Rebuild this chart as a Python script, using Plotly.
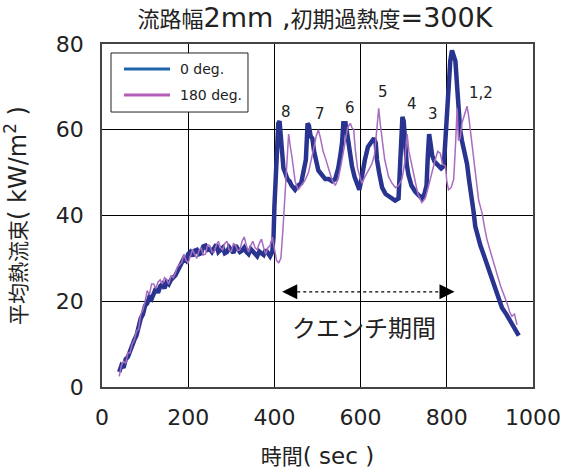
import plotly.graph_objects as go

# ---------------- data ----------------
t_0deg = [40, 45, 50, 55, 60, 65, 70, 75, 80, 85, 90, 95, 100, 105, 110, 115, 120, 125, 130, 135,
          140, 145, 150, 155, 160, 165, 170, 175, 180, 185, 190, 195,
          200, 205, 210, 215, 220, 225, 230, 235, 240, 245, 250, 255, 260, 265, 270, 275, 280, 285,
          290, 295, 300, 305, 310, 315, 320, 325, 330, 335, 340, 345, 350, 355, 360, 365, 370, 375,
          380, 385, 390, 395, 398, 400,
          403, 406, 409, 412, 415, 418, 421, 425, 430, 435, 440, 448, 455, 462, 468, 473, 477, 480,
          484, 488, 492, 497, 502, 510, 518, 526, 534, 541, 548, 553, 557, 560, 565, 569, 574, 580,
          586, 592, 597, 601, 605, 610, 617, 624, 631, 635, 638, 643, 650, 658, 666, 673, 680, 688,
          692, 695, 697, 700, 703, 707, 711, 718, 727, 735, 742, 748, 753, 756, 759, 762, 766, 772,
          780, 787, 793, 797, 800, 804, 808, 812, 816, 820, 824, 827, 831, 835, 841, 847, 852, 858,
          862, 866, 872, 878, 885, 892, 900, 909, 918, 928, 938, 947, 955, 962, 967]
q_0deg = [3.5, 5, 4.5, 6.5, 7, 8.5, 9.5, 11, 12, 14.5, 16, 17, 19, 19.5, 21, 20.5, 22, 23, 22, 23.5,
          24, 23, 24.5, 24, 25, 25.5, 26, 27, 28, 29, 30, 29.5,
          31, 31.5, 30.5, 31.8, 32, 31, 31.2, 32.8, 33, 32, 32.2, 31.5, 32.5, 33.2, 31.5, 32, 32.5, 31.2,
          31.5, 32.6, 32, 31.3, 33, 32.2, 31.5, 31.8, 32.5, 31.5, 31, 32.2, 31.5, 30.8, 30.5, 31.6, 31, 30.8,
          32, 31.2, 30.5, 31.5, 35, 42,
          50, 57, 61.5, 62, 59, 54, 51, 50, 48.5, 48, 47, 46, 47, 47.5, 50, 53, 61.5, 61,
          58.5, 58, 55, 53, 50.5, 49.5, 48.5, 48.5, 48, 48.5, 51, 54, 57, 61.5, 61.5, 59, 55, 51.5,
          49, 47, 46, 48, 51, 53, 56, 57, 58, 57, 53, 50, 46.5, 45, 44.5, 44, 43.5, 44,
          52, 60, 63, 62, 57, 52, 49.5, 47, 45.5, 44.5, 44, 45, 47, 54, 59, 57, 54, 52.5,
          51.5, 51, 51.5, 58, 65, 70, 76, 78.5, 77.5, 76, 70, 64, 60, 57.5, 55, 52, 48, 44.5,
          41, 37.5, 35, 33, 31, 29, 26.5, 24, 21, 18.5, 17, 15.5, 14, 13, 12]

t_180deg = [40, 45, 50, 55, 60, 65, 70, 75, 80, 85, 90, 95, 100, 105, 110, 115, 120, 125, 130, 135,
            140, 145, 150, 155, 160, 165, 170, 175, 180, 185, 190, 195,
            200, 205, 210, 215, 220, 225, 230, 235, 240, 245, 250, 255, 260, 265, 270, 275, 280, 285,
            290, 295, 300, 305, 310, 315, 320, 325, 330, 335, 340, 345, 350, 355, 360, 365, 370, 375,
            380, 385, 390, 395, 400, 405,
            410, 415, 420, 425, 429, 433, 437, 441, 448, 455, 462, 470, 479, 486, 492, 497, 502, 507,
            513, 518, 525, 533, 541, 548, 555, 560, 565, 570, 576, 580, 584, 588, 593, 598, 603, 610,
            618, 626, 632, 637, 642, 646, 650, 656, 665, 673, 681, 688, 696, 702, 706, 708, 712, 719,
            726, 733, 742, 750, 758, 766, 773, 779, 785, 790, 797, 800, 804, 810, 816, 820, 824, 827,
            831, 835, 840, 844, 847, 851, 854, 860, 866, 870, 874, 878, 882, 888, 893, 900, 908, 916,
            925, 933, 940, 946, 951, 957, 961, 963]
q_180deg = [2.5, 5, 6, 5.5, 8, 8, 10, 11, 13, 13.5, 17, 18, 20, 22.5, 21.5, 24, 24, 23, 24.5, 25,
            24, 25.5, 25, 24, 26, 25.5, 26.5, 28, 28.5, 29, 31, 29.5,
            29, 30.5, 32, 31, 30, 31.8, 32.5, 30.8, 31, 33.2, 33, 31.5, 31.5, 33, 34, 32.5, 32, 33.5,
            34, 32, 31.5, 33.5, 33, 31.8, 32, 34, 35, 33, 31.5, 33, 34, 32.5, 32, 33.5, 34.5, 32.5,
            31, 32.5, 33, 35, 32, 29.5,
            29, 30, 37, 45, 52, 59, 56, 53.5, 48, 46, 47, 48, 50, 53, 56, 58.5, 60, 58,
            55, 53.5, 51, 48.5, 47, 48.5, 52, 55, 58, 60.5, 61.5, 60.5, 60, 55, 51, 49, 47.5, 49,
            50.5, 52, 54, 60, 65, 61, 57.5, 53, 49, 47.5, 46.5, 47, 48.5, 52, 57, 59, 55, 51.5,
            48.5, 45, 43, 44, 47, 50.5, 53, 55, 54.5, 52, 51.5, 48, 46, 46.5, 48.5, 56, 65, 57.5,
            58, 61.5, 63, 64.5, 65.5, 63, 60.5, 56, 51.5, 47, 43.5, 42, 40.5, 37, 34.5, 32, 29.5, 26.5,
            23.5, 21.5, 19.5, 17.5, 16.5, 17, 15, 14.5]

series_names = ["0 deg.", "180 deg."]
peak_labels = ["8", "7", "6", "5", "4", "3", "1,2"]
peak_label_x = [427, 506, 576, 651, 719, 768, 879]
peak_label_y = [64.2, 63.6, 65.0, 68.9, 66.0, 63.6, 68.5]
quench_start, quench_end, quench_level = 418, 818, 22.2
quench_text = "クエンチ期間"

# ---------------- style ----------------
NAVY = "#28348f"
PURPLE = "#a86cc1"
LEG_BLUE = "#1f64aa"
LEG_PURPLE = "#b35fb7"
LAT = "DejaVu Sans, Noto Sans CJK JP"
TXT = "#222"
W, H = 563, 470


def cjk(s, size):
    return f'<span style="font-family:Noto Sans CJK JP;font-size:{size}px">{s}</span>'


fig = go.Figure()
fig.add_trace(go.Scatter(x=t_0deg, y=q_0deg, mode="lines", name=series_names[0], showlegend=False,
                         line=dict(color=NAVY, width=4.5)))
fig.add_trace(go.Scatter(x=t_180deg, y=q_180deg, mode="lines", name=series_names[1], showlegend=False,
                         line=dict(color=PURPLE, width=1.5)))

# legend box (drawn by hand to match the original's spacing)
fig.add_shape(type="rect", xref="paper", yref="paper", x0=0.0209, x1=0.3387, y0=0.8017, y1=0.9738,
              fillcolor="white", line=dict(color=TXT, width=1), layer="above")
leg_y = [0.9271, 0.8513]
leg_colors = [LEG_BLUE, LEG_PURPLE]
for name, ly, col in zip(series_names, leg_y, leg_colors):
    fig.add_shape(type="line", xref="paper", yref="paper", x0=0.051, x1=0.1578, y0=ly, y1=ly,
                  line=dict(color=col, width=3), layer="above")
    fig.add_annotation(xref="paper", yref="paper", x=0.1763, y=ly, xanchor="left", yanchor="middle",
                       text=name, showarrow=False, font=dict(family=LAT, size=14, color=TXT))

for lab, lx, ly in zip(peak_labels, peak_label_x, peak_label_y):
    fig.add_annotation(x=lx, y=ly, text=lab, showarrow=False,
                       font=dict(family=LAT, size=15, color=TXT))

# quench period double arrow
fig.add_shape(type="line", x0=quench_start + 35, x1=quench_end - 35, y0=quench_level, y1=quench_level,
              line=dict(color="black", width=1.2, dash="dot"))
fig.add_shape(type="path", fillcolor="black", line=dict(width=0),
              path=f"M {quench_start},{quench_level} L {quench_start+35},{quench_level+1.75} "
                   f"L {quench_start+35},{quench_level-1.75} Z")
fig.add_shape(type="path", fillcolor="black", line=dict(width=0),
              path=f"M {quench_end},{quench_level} L {quench_end-35},{quench_level+1.75} "
                   f"L {quench_end-35},{quench_level-1.75} Z")
fig.add_annotation(x=(quench_start + quench_end) / 2 - 9, y=14.0, text=quench_text, showarrow=False,
                   font=dict(family="Noto Sans CJK JP", size=24, color=TXT))

axis_common = dict(showline=True, linecolor="#444", linewidth=1.5, mirror=True,
                   showgrid=True, gridcolor="black", gridwidth=1, zeroline=False,
                   tickfont=dict(family=LAT, size=22, color=TXT), ticks="", automargin=False)

fig.update_xaxes(range=[0, 1000], tickvals=[0, 200, 400, 600, 800, 1000], ticklabelstandoff=10,
                 title=dict(text=cjk("時間", 21) + "( sec )", font=dict(family=LAT, size=23, color=TXT),
                            standoff=27),
                 **axis_common)
fig.update_yaxes(range=[0, 80], tickvals=[0, 20, 40, 60, 80], ticklabelstandoff=12,
                 title=dict(text=cjk("平均熱流束", 21) + "( kW/m<sup>2</sup> )",
                            font=dict(family=LAT, size=24, color=TXT), standoff=44),
                 **axis_common)

fig.update_layout(
    width=W, height=H,
    margin=dict(l=102, r=30, t=44, b=83),
    paper_bgcolor="white", plot_bgcolor="white",
    title=dict(text=cjk("流路幅", 22) + "2mm ," + cjk("初期過熱度", 22) + "=300K",
               x=315 / W, xref="container", xanchor="center",
               y=1 - 18 / H, yref="container", yanchor="middle", automargin=False,
               font=dict(family=LAT, size=27, color=TXT)),
    showlegend=False,
)

# remove the page's default 8px body margin so the figure sits at the window's corner
fig.write_html("out.html", config={"displayModeBar": False},
               post_script="document.body.style.margin='0';")
